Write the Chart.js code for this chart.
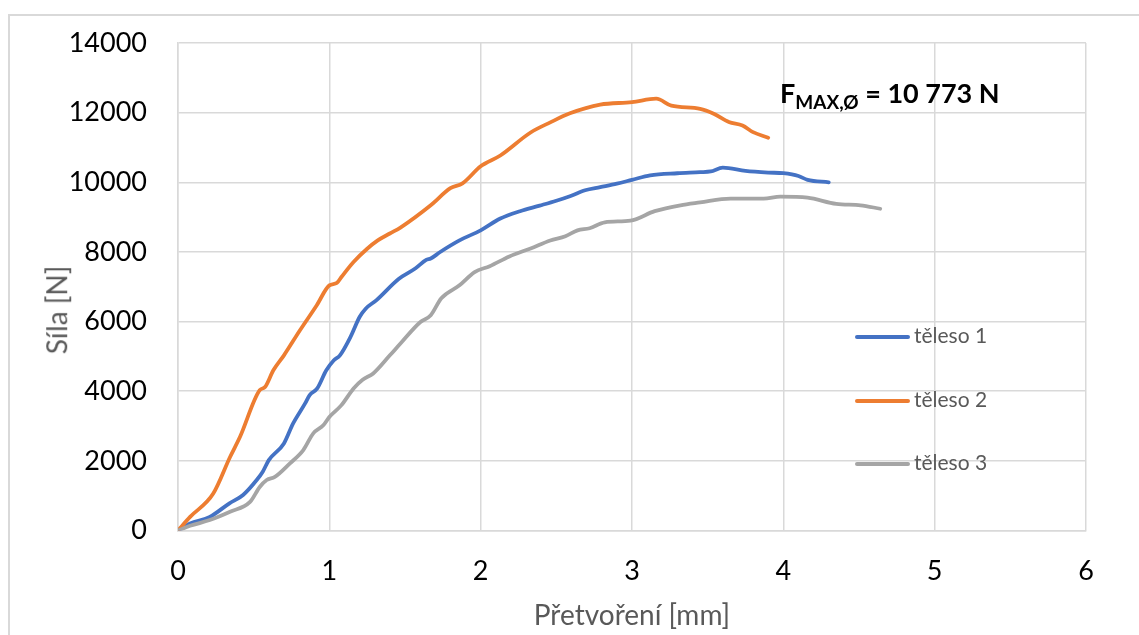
<!DOCTYPE html>
<html>
<head>
<meta charset="utf-8">
<script src="https://cdn.jsdelivr.net/npm/chart.js@4/dist/chart.umd.min.js"></script>
<style>
  html, body { margin: 0; padding: 0; background: #fff; overflow: hidden; }
  #wrap { position: relative; width: 1139px; height: 635px; overflow: hidden; }
  #frame { position: absolute; left: 8px; top: 14px; width: 1200px; height: 700px; border: 2px solid #d9d9d9; box-sizing: border-box; }
  #chart { position: absolute; left: 0; top: 0; }
  .ytitle { position: absolute; left: 57px; top: 310px; transform: translate(-50%, -50%) rotate(-90deg); font-family: Lato, sans-serif; font-size: 28px; line-height: 1.2; color: #595959; white-space: nowrap; }
  .note { position: absolute; left: 780px; top: 76px; font-family: Lato, sans-serif; font-weight: 700; font-size: 27px; color: #000; white-space: nowrap; }
  .note sub { font-size: 19px; vertical-align: -6px; }
  .legend { position: absolute; left: 855px; font-family: Lato, sans-serif; font-size: 21px; color: #595959; white-space: nowrap; }
  .legend span.swatch { display: inline-block; width: 55px; height: 4px; border-radius: 2px; vertical-align: middle; margin-right: 4px; position: relative; top: -1px; }
</style>
</head>
<body>
<div id="wrap">
  <div id="frame"></div>
  <canvas id="chart" width="1139" height="635"></canvas>
  <div class="ytitle">Síla [N]</div>
  <div class="note">F<sub>MAX,Ø</sub> = 10 773 N</div>
  <div class="legend" style="top:322px"><span class="swatch" style="background:#4472c4"></span>těleso 1</div>
  <div class="legend" style="top:386px"><span class="swatch" style="background:#ed7d31"></span>těleso 2</div>
  <div class="legend" style="top:449px"><span class="swatch" style="background:#a5a5a5"></span>těleso 3</div>
</div>
<script>
// deformation [mm] and force [N] for each specimen
const teleso1X = [0, 0.08, 0.21, 0.34, 0.43, 0.52, 0.56, 0.60, 0.70, 0.76, 0.84, 0.87, 0.92, 0.98, 1.03, 1.07, 1.14, 1.20, 1.24, 1.31, 1.46, 1.57, 1.64, 1.67, 1.73, 1.86, 2.0, 2.13, 2.26, 2.39, 2.50, 2.59, 2.69, 2.79, 2.90, 3.0, 3.12, 3.30, 3.45, 3.52, 3.60, 3.75, 3.90, 4.0, 4.10, 4.16, 4.30];
const teleso1Y = [0, 200, 390, 780, 1020, 1450, 1690, 2020, 2500, 3070, 3650, 3890, 4080, 4600, 4890, 5030, 5560, 6130, 6370, 6610, 7230, 7530, 7770, 7810, 7990, 8330, 8620, 8960, 9170, 9330, 9470, 9600, 9770, 9860, 9960, 10070, 10200, 10260, 10290, 10310, 10420, 10330, 10280, 10260, 10180, 10070, 10000];

const teleso2X = [0, 0.08, 0.233, 0.344, 0.41, 0.54, 0.575, 0.63, 0.70, 0.806, 0.917, 1.0, 1.05, 1.08, 1.16, 1.25, 1.32, 1.40, 1.47, 1.67, 1.80, 1.88, 2.0, 2.13, 2.33, 2.46, 2.59, 2.79, 3.0, 3.16, 3.26, 3.45, 3.54, 3.64, 3.73, 3.80, 3.90];
const teleso2Y = [0, 390, 1060, 2110, 2690, 4030, 4120, 4600, 5030, 5750, 6470, 7040, 7110, 7280, 7710, 8090, 8330, 8530, 8700, 9340, 9830, 9970, 10460, 10770, 11430, 11720, 11980, 12230, 12300, 12400, 12200, 12110, 11970, 11730, 11630, 11440, 11280];

const teleso3X = [0, 0.08, 0.21, 0.344, 0.476, 0.54, 0.586, 0.64, 0.74, 0.828, 0.894, 0.96, 1.0, 1.08, 1.16, 1.22, 1.29, 1.40, 1.47, 1.60, 1.67, 1.74, 1.86, 1.96, 2.06, 2.19, 2.33, 2.46, 2.56, 2.64, 2.72, 2.82, 2.99, 3.15, 3.32, 3.45, 3.65, 3.87, 3.98, 4.16, 4.35, 4.51, 4.64];
const teleso3Y = [0, 135, 300, 540, 820, 1250, 1450, 1540, 1930, 2310, 2790, 3020, 3260, 3600, 4080, 4330, 4510, 5030, 5370, 5980, 6180, 6670, 7040, 7420, 7590, 7870, 8100, 8330, 8450, 8620, 8680, 8850, 8900, 9170, 9340, 9420, 9530, 9530, 9590, 9560, 9380, 9340, 9240];

const xTicks = [0, 1, 2, 3, 4, 5, 6];
const yTicks = [0, 2000, 4000, 6000, 8000, 10000, 12000, 14000];

function toPoints(xs, ys) {
  return xs.map((x, i) => ({ x: x, y: ys[i] }));
}

function lineSet(label, xs, ys, color, order) {
  return {
    label: label,
    data: toPoints(xs, ys),
    borderColor: color,
    backgroundColor: color,
    borderWidth: 3.8,
    borderCapStyle: 'round',
    borderJoinStyle: 'round',
    pointRadius: 0,
    cubicInterpolationMode: 'monotone',
    order: order
  };
}

const gridColor = '#d9d9d9';
const tickFont = { family: 'Lato', size: 27 };
const titleFont = { family: 'Lato', size: 28 };

new Chart(document.getElementById('chart'), {
  type: 'line',
  data: {
    datasets: [
      lineSet('těleso 1', teleso1X, teleso1Y, '#4472c4', 3),
      lineSet('těleso 2', teleso2X, teleso2Y, '#ed7d31', 2),
      lineSet('těleso 3', teleso3X, teleso3Y, '#a5a5a5', 1)
    ]
  },
  options: {
    responsive: false,
    animation: false,
    layout: { padding: { top: 43, right: 53, bottom: 0, left: 0 } },
    plugins: {
      legend: { display: false },
      tooltip: { enabled: false }
    },
    scales: {
      x: {
        type: 'linear',
        min: 0,
        max: 6,
        afterBuildTicks: axis => { axis.ticks = xTicks.map(v => ({ value: v })); },
        afterFit: axis => { axis.height = 104.5; },
        grid: { color: gridColor, lineWidth: 1.5, drawTicks: false },
        border: { color: gridColor, width: 1.5 },
        ticks: { color: '#000', font: tickFont, padding: 25 },
        title: { display: true, text: 'Přetvoření [mm]', color: '#595959', font: titleFont, padding: { top: 0, bottom: 2 } }
      },
      y: {
        min: 0,
        max: 14000,
        afterBuildTicks: axis => { axis.ticks = yTicks.map(v => ({ value: v })); },
        // fixed axis box; tick padding must not push the plot top down
        afterFit: axis => { axis.width = 178; axis.paddingTop = 0; axis.paddingBottom = 0; },
        grid: { color: gridColor, lineWidth: 1.5, drawTicks: false },
        border: { color: gridColor, width: 1.5 },
        ticks: { color: '#000', font: tickFont, padding: 31, callback: v => String(v) }
      }
    }
  }
});
</script>
</body>
</html>
